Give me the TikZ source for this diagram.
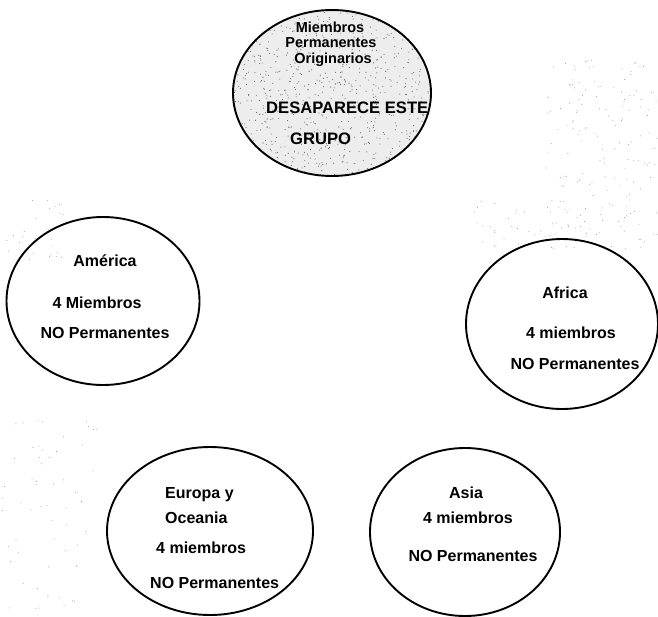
\documentclass[tikz,border=0pt]{standalone}
\usepackage{fontspec}
\setmainfont{Liberation Sans}
\usetikzlibrary{shapes.geometric}
\begin{document}
\begin{tikzpicture}[x=1pt,y=-1pt,
  region/.style={draw=black, line width=1.9pt, ellipse, inner sep=0pt},
  lbl/.style={font=\fontsize{16}{18}\selectfont\bfseries, inner sep=0pt, anchor=base},
  lblw/.style={lbl, anchor=base west},
  small/.style={font=\fontsize{14.5}{15}\selectfont\bfseries, inner sep=0pt, anchor=base},
  speck/.style={fill=black!60}]
\useasboundingbox (0,0) rectangle (658,616);
\fill[white] (0,0) rectangle (658,616);

% stippled grey of the original group
\fill[black!7] (332,93) ellipse [x radius=99, y radius=83];
\pgfmathsetseed{7}
\begin{scope}
  \clip (332,93) ellipse [x radius=99, y radius=83];
  \foreach \i in {1,...,800}{
    \fill[speck] ({233+198*rnd},{10+166*rnd}) circle (0.55);
  }
\end{scope}
% scan specks outside
\foreach \i in {1,...,160}{
  \fill[black!40] ({545+113*rnd},{60+190*rnd}) circle (0.5);
}
\foreach \i in {1,...,40}{
  \fill[black!40] ({470+120*rnd},{200+50*rnd}) circle (0.5);
}
\foreach \i in {1,...,60}{
  \fill[black!40] ({2+100*rnd},{420+190*rnd}) circle (0.5);
}
\foreach \i in {1,...,25}{
  \fill[black!40] ({5+70*rnd},{200+60*rnd}) circle (0.5);
}

% ellipses
\node[region, minimum width=198pt, minimum height=166pt] (orig) at (332,93) {};
\node[region, minimum width=193pt, minimum height=168pt] (amer) at (103,301) {};
\node[region, minimum width=192pt, minimum height=170pt] (afr) at (562,324) {};
\node[region, minimum width=206pt, minimum height=168pt] (eur) at (210,531) {};
\node[region, minimum width=190pt, minimum height=168pt] (asia) at (465,532) {};

% texts
\node[small] (o1) at (330,32) {Miembros};
\node[small] (o2) at (331,47) {Permanentes};
\node[small] (o3) at (333,63) {Originarios};
\node[lblw, font=\fontsize{16.6}{18}\selectfont\bfseries] (o4) at (266,113) {DESAPARECE ESTE};
\node[lblw, font=\fontsize{16.6}{18}\selectfont\bfseries] (o5) at (290,144) {GRUPO};

\node[lbl] (a1) at (105,266) {América};
\node[lbl] (a2) at (97,308) {4 Miembros};
\node[lbl] (a3) at (105,338) {NO Permanentes};

\node[lbl] (f1) at (565,298) {Africa};
\node[lbl] (f2) at (571,338) {4 miembros};
\node[lbl] (f3) at (575,369) {NO Permanentes};

\node[lblw] (e1) at (165,498) {Europa y};
\node[lblw] (e2) at (165,523) {Oceania};
\node[lblw] (e3) at (156,553) {4 miembros};
\node[lblw] (e4) at (150,588) {NO Permanentes};

\node[lbl] (s1) at (466,498) {Asia};
\node[lbl] (s2) at (468,523) {4 miembros};
\node[lbl] (s3) at (473,561) {NO Permanentes};
\end{tikzpicture}
\end{document}
